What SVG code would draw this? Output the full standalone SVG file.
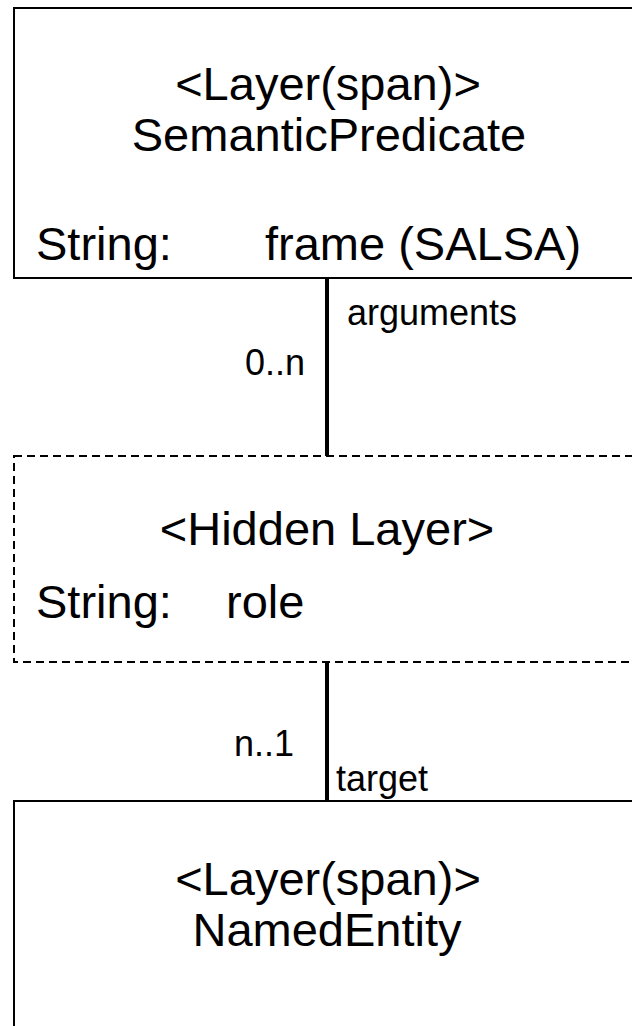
<svg xmlns="http://www.w3.org/2000/svg" width="632" height="1026" viewBox="0 0 632 1026">
<style>
.box{fill:#fff;stroke:#000;stroke-width:2}
.dash{fill:#fff;stroke:#000;stroke-width:2;stroke-dasharray:8,5}
.t{font-family:"Liberation Sans",Arial,sans-serif;font-size:47px;fill:#000}
.c{text-anchor:middle}
.l{font-family:"Liberation Sans",Arial,sans-serif;font-size:36px;fill:#000}
.conn{stroke:#000;stroke-width:4;fill:none}
</style>
<rect width="632" height="1026" fill="#fff"/>
<g id="connectors">
<line class="conn" x1="327" y1="278" x2="327" y2="456"/>
<line class="conn" x1="327" y1="662" x2="327" y2="801"/>
<text class="l" x="305" y="375" text-anchor="end">0..n</text>
<text class="l" x="347" y="325">arguments</text>
<text class="l" x="294" y="756" text-anchor="end">n..1</text>
<text class="l" x="336" y="791">target</text>
</g>
<g id="semanticPredicate">
<rect class="box" x="14" y="8" width="640" height="270"/>
<text class="t c" x="328" y="100">&lt;Layer(span)&gt;</text>
<text class="t c" x="329" y="151">SemanticPredicate</text>
<text class="t" x="36" y="260">String:</text>
<text class="t" x="265" y="260">frame (SALSA)</text>
</g>
<g id="hiddenLayer">
<rect class="dash" x="14" y="456" width="640" height="206"/>
<text class="t c" x="327" y="545">&lt;Hidden Layer&gt;</text>
<text class="t" x="36" y="618">String:</text>
<text class="t" x="226" y="618">role</text>
</g>
<g id="namedEntity">
<rect class="box" x="14" y="801" width="640" height="260"/>
<text class="t c" x="328" y="895">&lt;Layer(span)&gt;</text>
<text class="t c" x="327" y="946">NamedEntity</text>
</g>
</svg>
